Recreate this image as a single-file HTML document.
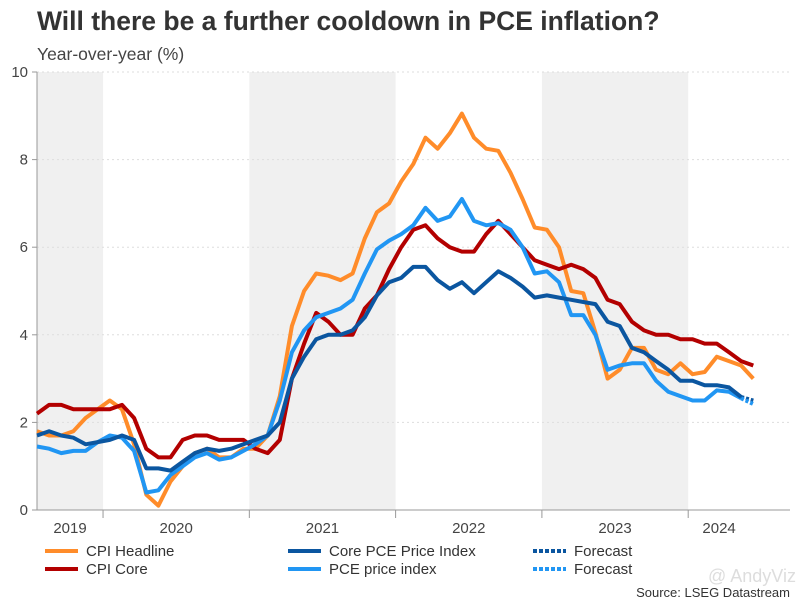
<!DOCTYPE html>
<html><head><meta charset="utf-8"><style>
body{margin:0;background:#fff;font-family:"Liberation Sans",sans-serif;}
svg{display:block}
</style></head><body>
<svg id="chart" width="801" height="601">
<rect width="801" height="601" fill="#fff"/>
<text x="37" y="30" font-size="26.5" font-weight="bold" fill="#333">Will there be a further cooldown in PCE inflation?</text>
<text x="37" y="60" font-size="17.5" fill="#444">Year-over-year (%)</text>
<g id="shade"></g><g id="grid"></g><g id="axes"></g><g id="series"></g>
<g id="legend"></g>
<text x="790" y="597" font-size="13" fill="#333" text-anchor="end">Source: LSEG Datastream</text>
<text x="796" y="582" font-size="18" fill="#ddd" text-anchor="end">@ AndyViz</text>
</svg>
<script>
const years=["2019","2020","2021","2022","2023","2024"];
const yTicks=[0,2,4,6,8,10];
const cpiHeadline=[1.8,1.7,1.7,1.8,2.1,2.3,2.5,2.3,1.5,0.35,0.1,0.65,1.0,1.3,1.4,1.2,1.2,1.4,1.4,1.7,2.6,4.2,5.0,5.4,5.35,5.25,5.4,6.2,6.8,7.0,7.5,7.9,8.5,8.25,8.6,9.05,8.5,8.25,8.2,7.7,7.1,6.45,6.4,6.0,5.0,4.95,4.05,3.0,3.2,3.7,3.7,3.2,3.1,3.35,3.1,3.15,3.5,3.4,3.3,3.0];
const cpiCore=[2.2,2.4,2.4,2.3,2.3,2.3,2.3,2.4,2.1,1.4,1.2,1.2,1.6,1.7,1.7,1.6,1.6,1.6,1.4,1.3,1.6,3.0,3.8,4.5,4.3,4.0,4.0,4.6,4.9,5.5,6.0,6.4,6.5,6.2,6.0,5.9,5.9,6.3,6.6,6.3,6.0,5.7,5.6,5.5,5.6,5.5,5.3,4.8,4.7,4.3,4.1,4.0,4.0,3.9,3.9,3.8,3.8,3.6,3.4,3.3];
const corePce=[1.7,1.8,1.7,1.65,1.5,1.55,1.6,1.7,1.6,0.95,0.95,0.9,1.1,1.3,1.4,1.35,1.4,1.5,1.6,1.7,2.0,3.0,3.5,3.9,4.0,4.0,4.1,4.4,4.9,5.2,5.3,5.55,5.55,5.25,5.05,5.2,4.95,5.2,5.45,5.3,5.1,4.85,4.9,4.85,4.8,4.75,4.7,4.3,4.2,3.7,3.6,3.4,3.2,2.95,2.95,2.85,2.85,2.8,2.58];
const pce=[1.45,1.4,1.3,1.35,1.35,1.55,1.7,1.65,1.35,0.4,0.45,0.8,1.0,1.2,1.3,1.15,1.2,1.35,1.5,1.7,2.5,3.6,4.1,4.4,4.5,4.6,4.8,5.4,5.95,6.15,6.3,6.5,6.9,6.6,6.7,7.1,6.6,6.5,6.55,6.4,6.0,5.4,5.45,5.2,4.45,4.45,4.0,3.2,3.3,3.35,3.35,2.95,2.7,2.6,2.5,2.5,2.73,2.7,2.55];
const corePceForecast=[2.58,2.5];
const pceForecast=[2.55,2.42];
const NS="http://www.w3.org/2000/svg";
const X0=37,STEP=12.14,Y0=510,YS=43.8;
const xs=i=>X0+i*STEP, ys=v=>Y0-v*YS;
const bnd=k=>xs(5.44+12.05*k);
function mk(p,t,a){const e=document.createElementNS(NS,t);for(const k in a)e.setAttribute(k,a[k]);document.getElementById(p).appendChild(e);return e;}
[[null,0],[1,2],[3,4]].forEach((s,j)=>{const x1=s[0]===null?X0:bnd(s[0]),x2=bnd(s[1]);
const r=mk('shade','rect',{x:x1,y:ys(10),width:x2-x1,height:ys(0)-ys(10),fill:'#f0f0f0'});

});
yTicks.forEach(t=>{
 if(t>0){const l=mk('grid','line',{x1:X0,x2:790,y1:ys(t),y2:ys(t),stroke:'#ddd','stroke-dasharray':'2,3'});
 
 }
 mk('axes','line',{x1:X0-5,x2:X0,y1:ys(t),y2:ys(t),stroke:'#999'});
 const tx=mk('axes','text',{x:28,y:ys(t)+5,'font-size':15,fill:'#444','text-anchor':'end'});tx.textContent=t;
 
 
});
mk('axes','line',{x1:X0,x2:X0,y1:ys(10),y2:ys(0),stroke:'#999'});
mk('axes','line',{x1:X0,x2:790,y1:ys(0),y2:ys(0),stroke:'#999'});
years.forEach((y,k)=>{
 if(k<5)mk('axes','line',{x1:bnd(k),x2:bnd(k),y1:Y0,y2:Y0+8,stroke:'#999'});
 const c=k===0?(X0+bnd(0))/2:k<5?(bnd(k-1)+bnd(k))/2:(bnd(4)+790)/2-20;
 const tx=mk('axes','text',{x:c,y:533,'font-size':15,fill:'#444','text-anchor':'middle'});tx.textContent=y;
 
 
});
function line(data,col,name,start,dash){
 const d=data.map((v,i)=>(i?'L':'M')+xs(i+start).toFixed(1)+','+ys(v).toFixed(1)).join('');
 const p=mk('series','path',{d:d,fill:'none',stroke:col,'stroke-width':4,'stroke-linejoin':'round'});
 if(dash)p.setAttribute('stroke-dasharray','3,2');
 
 
}
line(cpiHeadline,'#ff8c2a','cpi-headline-line',0);
line(cpiCore,'#b30000','cpi-core-line',0);
line(pce,'#2196f3','pce-price-index-line',0);
line(corePce,'#0b56a0','core-pce-line',0);
line(corePceForecast,'#0b56a0','core-pce-forecast-line',58,true);
line(pceForecast,'#2196f3','pce-forecast-line',58,true);
const leg=[["CPI Headline",'#ff8c2a',45,551,false],["CPI Core",'#b30000',45,569,false],["Core PCE Price Index",'#0b56a0',288,551,false],["PCE price index",'#2196f3',288,569,false],["Forecast",'#0b56a0',533,551,true],["Forecast",'#2196f3',533,569,true]];
leg.forEach(l=>{
 const ln=mk('legend','line',{x1:l[2],x2:l[2]+33,y1:l[3],y2:l[3],stroke:l[1],'stroke-width':4});
 if(l[4])ln.setAttribute('stroke-dasharray','4,2');
 const t=mk('legend','text',{x:l[2]+41,y:l[3]+5,'font-size':15,fill:'#333'});t.textContent=l[0];
 
 
});
</script>
</body></html>
